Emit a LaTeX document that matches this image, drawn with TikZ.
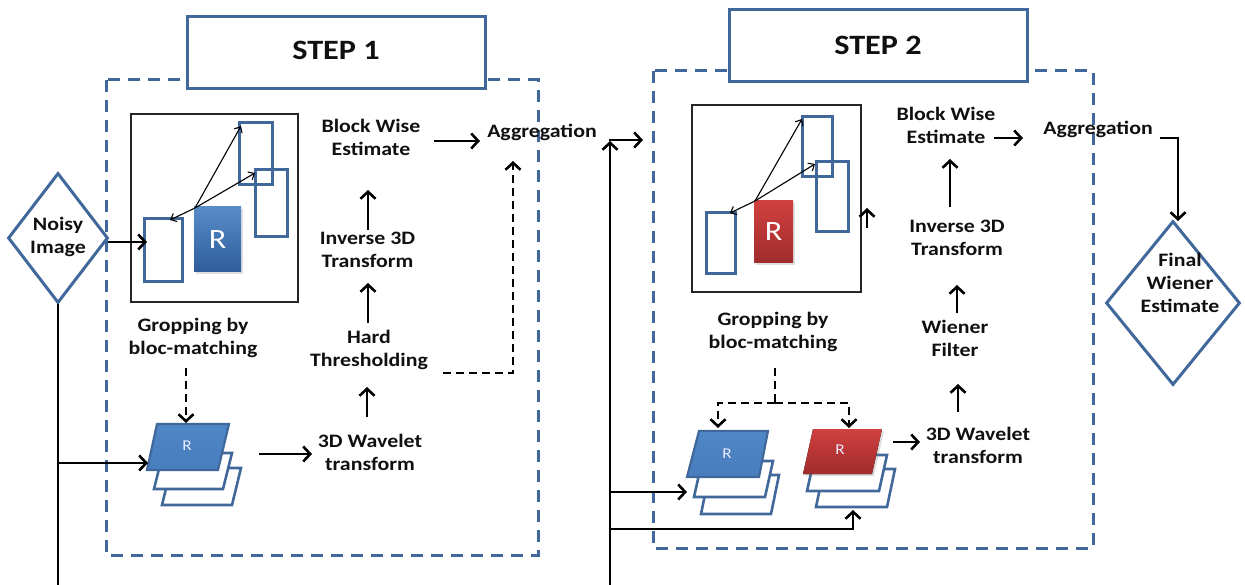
\documentclass[tikz,border=0pt]{standalone}
\usepackage{fontspec}
\setmainfont{Carlito}[FakeStretch=1.15]
\usetikzlibrary{arrows.meta,shapes.geometric,shadows}
\definecolor{bline}{HTML}{41689A}
\definecolor{bfillT}{HTML}{4F86C6}
\definecolor{bfillB}{HTML}{2E5C9C}
\definecolor{rfillT}{HTML}{D0403F}
\definecolor{rfillB}{HTML}{A02C2C}
\definecolor{txt}{HTML}{101010}
\begin{document}
\begin{tikzpicture}[x=1pt,y=-1pt,
  lbl/.style={font=\fontsize{19}{23}\selectfont\bfseries, text=txt, align=center, inner sep=0pt},
  steplbl/.style={font=\fontsize{28}{32}\selectfont\bfseries, text=txt},
  stepbox/.style={draw=bline, line width=3pt, fill=white, minimum width=298pt, minimum height=72pt, inner sep=0pt},
  dashbox/.style={draw=bline, line width=3pt, dash pattern=on 12pt off 8pt},
  arr/.style={line width=2.8pt, -{Straight Barb[length=7pt,width=15pt,line width=2.6pt]}},
  darr/.style={arr, dash pattern=on 8pt off 5pt},
  dline/.style={line width=2.8pt, dash pattern=on 8pt off 5pt},
  cline/.style={line width=2.8pt},
  thinarr/.style={line width=1.1pt, -{Straight Barb[length=5pt,width=9pt,line width=1.1pt]}},
  imgbox/.style={draw=black!85, line width=1.5pt, inner sep=0pt},
  brect/.style={draw=bline, line width=3pt, inner sep=0pt},
  rbox/.style={inner sep=0pt, text=white, font=\fontsize{28}{30}\selectfont, drop shadow={opacity=0.25, shadow xshift=2pt, shadow yshift=-2pt}},
  para/.style={draw=bline, line width=2.6pt, fill=white},
  rsmall/.style={text=white!92!blue, font=\fontsize{15}{16}\selectfont, inner sep=0pt},
  dia/.style={diamond, draw=bline, line width=3pt, inner sep=0pt}
]
\useasboundingbox (0,0) rectangle (1245,585);

% ---------- dashed frames and step boxes ----------
\draw[dashbox] (106,80) rectangle (538,555);
\draw[dashbox] (653,71) rectangle (1093,548);
\node[stepbox] (s1) at (336,53) {};
\node[steplbl] (s1t) at (336,50) {STEP 1};
\node[stepbox] (s2) at (878,46) {};
\node[steplbl] (s2t) at (878,45) {STEP 2};

% ---------- Noisy image ----------
\node[dia, minimum width=100pt, minimum height=130pt] (noisyd) at (58,238) {};
\node[lbl] (noisy) at (58,237) {Noisy\\Image};

% ---------- image box 1 ----------
\node[imgbox, minimum width=167pt, minimum height=188pt] (ib1) at (214.5,208) {};
\node[brect, minimum width=38pt, minimum height=63pt] (r1) at (163,250.5) {};
\node[brect, minimum width=33pt, minimum height=62pt] (r2) at (255.5,154) {};
\node[brect, minimum width=32pt, minimum height=67pt] (r3) at (271,203.5) {};
\node[rbox, minimum width=47pt, minimum height=65pt, top color=bfillT!95!white, bottom color=bfillB] (R1) at (217.5,239.5) {R};
\coordinate (o1) at (195,208);
\draw[thinarr] (o1) -- (241,126);
\draw[thinarr] (o1) -- (255,173);
\draw[thinarr] (o1) -- (170,220);
\draw[arr] (108,242) -- (147,242);

\node[lbl] (gb1) at (193,338) {Gropping by\\bloc-matching};
\draw[darr] (186,368) -- (186,423);

% ---------- stack 1 ----------
\draw[para] (171,468) -- (241,468) -- (232,505) -- (162,505) -- cycle;
\draw[para] (163,453) -- (232,453) -- (223,489) -- (154,489) -- cycle;
\fill[top color=bfillT, bottom color=bfillT!80!bfillB] (157,424) -- (229,424) -- (218,470) -- (147,470) -- cycle;
\draw[bline, line width=2.2pt] (157,424) -- (229,424) -- (218,470) -- (147,470) -- cycle;
\node[rsmall] (st1) at (187,446) {R};

\node[lbl] (wt1) at (370,452) {3D Wavelet\\transform};
\draw[arr] (259,454) -- (312,454);
\draw[arr] (367,417) -- (367,387);
\node[lbl] (ht1) at (369,350) {Hard\\Thresholding};
\draw[arr] (368,323) -- (368,283);
\node[lbl] (it1) at (367.5,250) {Inverse 3D\\Transform};
\draw[arr] (368,230) -- (368,190);
\node[lbl] (be1) at (371,137) {Block Wise\\Estimate};
\draw[arr] (434,141) -- (480,141);
\node[lbl] (ag1) at (542,132) {Aggregation};
\draw[darr] (443,373) -- (513,373) -- (513,161);

% ---------- main lines ----------
\draw[cline] (noisyd.south) -- (58,585);
\draw[arr] (58,463) -- (148,463);
\draw[arr] (610,585) -- (610,141);
\draw[arr] (609,140) -- (643,140);
\draw[arr] (610,492) -- (687,492);
\draw[arr] (610,529) -- (853,529) -- (853,510);

% ---------- image box 2 ----------
\node[imgbox, minimum width=169pt, minimum height=187pt] (ib2) at (776.5,198.5) {};
\node[brect, minimum width=29pt, minimum height=61pt] (q1) at (720.5,243.5) {};
\node[brect, minimum width=30pt, minimum height=60pt] (q2) at (817,147) {};
\node[brect, minimum width=32pt, minimum height=70pt] (q3) at (832,197) {};
\node[rbox, minimum width=39pt, minimum height=62pt, top color=rfillT, bottom color=rfillB] (R2) at (773.5,232) {R};
\coordinate (o2) at (755,201);
\draw[thinarr] (o2) -- (802,119);
\draw[thinarr] (o2) -- (815,164);
\draw[thinarr] (o2) -- (730,213);
\draw[arr] (867,228) -- (867,208);

\node[lbl] (gb2) at (773,332) {Gropping by\\bloc-matching};
\draw[dline] (775,368) -- (775,403);
\draw[darr] (775,403) -- (718,403) -- (718,428);
\draw[darr] (775,403) -- (849,403) -- (849,428);

% ---------- stack 2 (blue) ----------
\draw[para] (709,475) -- (779,475) -- (771,514) -- (701,514) -- cycle;
\draw[para] (702,461) -- (773,461) -- (765,497) -- (694,497) -- cycle;
\fill[top color=bfillT, bottom color=bfillT!80!bfillB] (699,431) -- (768,431) -- (759,477) -- (687,477) -- cycle;
\draw[bline, line width=2.2pt] (699,431) -- (768,431) -- (759,477) -- (687,477) -- cycle;
\node[rsmall] (st2) at (727,454) {R};

% ---------- stack 3 (red) ----------
\draw[para] (824,469) -- (895,469) -- (887,507) -- (816,507) -- cycle;
\draw[para] (815,455) -- (887,455) -- (879,491) -- (807,491) -- cycle;
\fill[top color=rfillT, bottom color=rfillB, drop shadow={opacity=0.25, shadow xshift=2pt, shadow yshift=-2pt}] (813,429) -- (882,429) -- (872,474) -- (803,474) -- cycle;
\node[rsmall] (st3) at (840,450) {R};

\node[lbl] (wt2) at (978,445) {3D Wavelet\\transform};
\draw[arr] (893,442) -- (920,442);
\draw[arr] (958,412) -- (958,384);
\node[lbl] (wf2) at (955,338) {Wiener\\Filter};
\draw[arr] (957,313) -- (957,285);
\node[lbl] (it2) at (957,238) {Inverse 3D\\Transform};
\draw[arr] (950,207) -- (950,159);
\node[lbl] (be2) at (946,125) {Block Wise\\Estimate};
\draw[arr] (994,138) -- (1023,138);
\node[lbl] (ag2) at (1098,129) {Aggregation};

% ---------- final ----------
\node[dia, minimum width=134pt, minimum height=164pt] (fd) at (1173,303) {};
\draw[arr] (1160,138) -- (1178,138) -- (1178,221);
\node[lbl] (fw) at (1180,283) {Final\\Wiener\\Estimate};
\end{tikzpicture}
\end{document}
